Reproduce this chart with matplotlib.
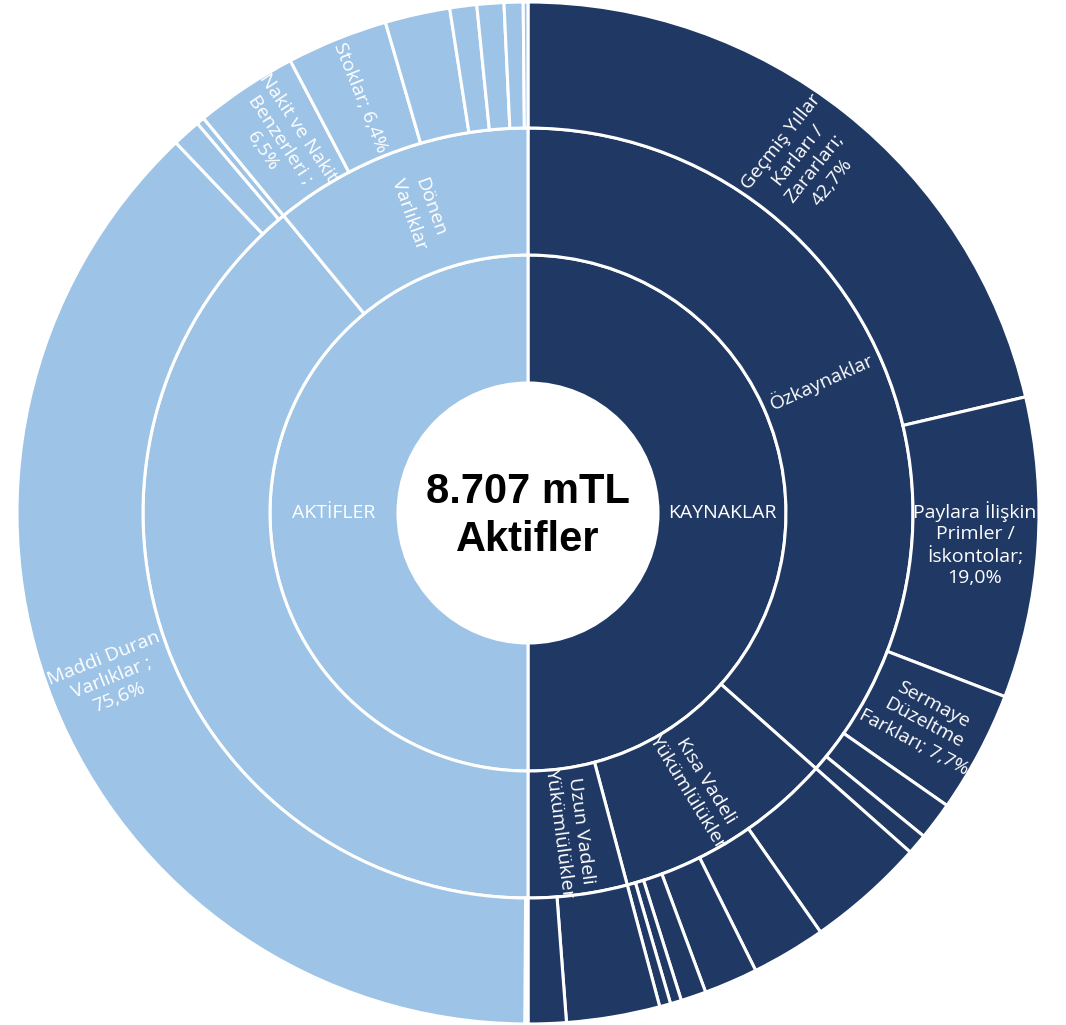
"""Bilanço sunburst: AKTİFLER / KAYNAKLAR, three nested rings drawn with ax.pie."""
import numpy as np
import matplotlib
matplotlib.use("Agg")
import matplotlib.pyplot as plt

DARK = "#203864"    # kaynaklar
LIGHT = "#9DC3E6"   # aktifler

# outer ring, % of each side, clockwise from 12 o'clock
ozkaynaklar = [42.7, 19.0, 7.7, 2.4, 1.3]
kisa_vadeli = [7.5, 4.7, 3.4, 1.6, 0.7, 0.7]
uzun_vadeli = [5.9, 2.4]
duran = [0.2, 75.6, 1.8, 0.5]
donen = [6.5, 6.4, 4.1, 1.7, 1.7, 1.2, 0.3]

outer_labels = (
    ["Geçmiş Yıllar\nKarları /\nZararları;\n42,7%",
     "Paylara İlişkin\nPrimler /\nİskontolar;\n19,0%",
     "Sermaye\nDüzeltme\nFarkları; 7,7%", "", ""]
    + [""] * len(kisa_vadeli) + [""] * len(uzun_vadeli)
    + ["", "Maddi Duran\nVarlıklar ;\n75,6%", "", ""]
    + ["Nakit ve Nakit\nBenzerleri ;\n6,5%", "Stoklar; 6,4%", "", "", "", "", ""]
)
groups = [ozkaynaklar, kisa_vadeli, uzun_vadeli, duran, donen]
group_labels = ["Özkaynaklar", "Kısa Vadeli\nYükümlülükler",
                "Uzun Vadeli\nYükümlülükler", "", "Dönen\nVarlıklar"]
group_side = [0, 0, 0, 1, 1]
side_labels = ["KAYNAKLAR", "AKTİFLER"]
center_text = "8.707 mTL\nAktifler"

outer_vals = sum(groups, [])
group_vals = [sum(g) for g in groups]
side_vals = [sum(v for v, s in zip(group_vals, group_side) if s == k) for k in (0, 1)]
side_cols = [DARK, LIGHT]

# geometry in pixels -> unit radius
R = 511.0
CX, CY = 528.0, 513.0
W, H = 1066, 1025
r3, r2, r1, r0 = 1.0, 385 / R, 258 / R, 130 / R

fig = plt.figure(figsize=(W / 100, H / 100), dpi=100)
ax = fig.add_axes([0, 0, 1, 1])

wp = dict(edgecolor="white", linewidth=2.2)
rings = [
    (side_vals, side_labels, [side_cols[k] for k in (0, 1)], r1, r1 - r0),
    (group_vals, group_labels, [side_cols[s] for s in group_side], r2, r2 - r1),
    (outer_vals, outer_labels,
     [side_cols[s] for g, s in zip(groups, group_side) for _ in g], r3, r3 - r2),
]

for vals, labels, cols, rad, width in rings:
    wedges, _ = ax.pie(vals, radius=rad, colors=cols, startangle=90,
                       counterclock=False, wedgeprops=dict(width=width, **wp))
    for w, lab in zip(wedges, labels):
        if not lab:
            continue
        mid = np.radians((w.theta1 + w.theta2) / 2)
        rm = w.r - w.width / 2
        rot = np.degrees(mid)
        rot = (rot + 180) % 360 - 180
        if abs(rot) > 90:
            rot = rot - 180 if rot > 0 else rot + 180
        if abs(rot) < 8:
            rot = 0
        ax.text(rm * np.cos(mid), rm * np.sin(mid), lab, rotation=rot,
                rotation_mode="anchor", ha="center", va="center",
                multialignment="center", color="white", fontsize=14,
                family="Open Sans", linespacing=1.25)

ax.text(0, -0.006, center_text, ha="center", va="center", fontsize=30,
        fontweight="bold", family="Liberation Sans", linespacing=1.25)

ax.set_xlim(-CX / R, (W - CX) / R)
ax.set_ylim(-(H - CY) / R, CY / R)
ax.set_aspect("equal", adjustable="box")
ax.axis("off")
fig.savefig("out.png", dpi=100, facecolor="white")
